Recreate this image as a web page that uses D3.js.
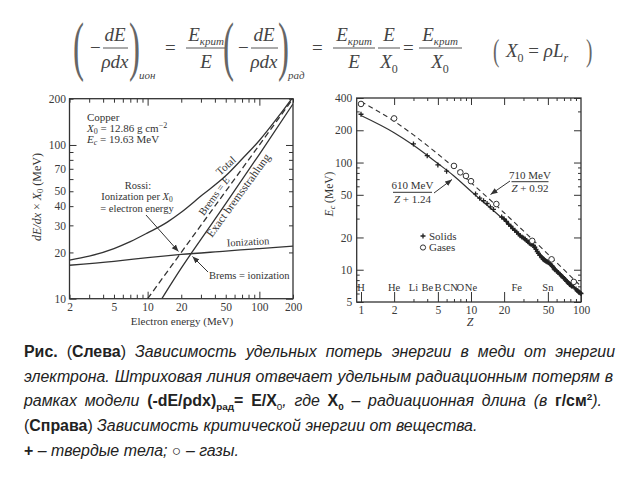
<!DOCTYPE html>
<html><head><meta charset="utf-8">
<script src="https://cdn.jsdelivr.net/npm/d3@7"></script>
<style>
body{margin:0;background:#fff}
svg{display:block}
</style></head><body>
<svg id="c" width="640" height="480"></svg>
<script>
// ---------- data ----------
const leftXTicks = [2,5,10,20,50,100,200];
const leftXMinor = [3,4,6,7,8,9,30,40,60,70,80,90];
const leftYTicks = [10,20,30,40,50,70,100,200];
const leftYMinor = [60,80,90];
const ionE = [2,5,10,20,50,100,200];
const ionV = [16.5,17.5,18.5,19.4,20.4,21.2,22.0];
const totalE = [2,3,5,7,10,15,20,30,50,70,100,150,200];
const totalV = [17.8,18.9,21.2,23.5,26.8,31.5,36.5,46.5,63,81,107,155,205];
const exactE = [13.4,20,30,50,100,200];
const exactV = [10,15.8,24.3,41.5,87,185];
const rossiE = [10,200];
const rossiV = [10,200];

const rightXTicks = [1,2,5,10,20,50,100];
const rightXMinor = [3,4,6,7,8,9,30,40,60,70,80,90];
const rightYTicks = [5,10,20,50,100,200,400];
const rightYMinor = [6,7,8,9,30,40,60,70,80,90,300];
const fitZ = [1,2,3,5,7,10,20,30,50,70,100];
const solidFit = [275,190,145,98,75,54,29,19.5,12,8.6,6.0];
const gasFit = [370,243,181,120,90,65,34,23,14,10,7];
const solidZ = [1,3,4,5,6,11,12,13,14,15,16,19,20,21,22,23,24,25,26,27,28,29,30,31,32,33,34,35,37,38,39,40,41,42,44,45,46,47,48,49,50,51,52,53,55,56,57,58,60,62,64,66,68,70,72,74,76,78,79,80,81,82,83,90,92,94,96,98,100];
const solidEc = [282,149,116,95,83,51,46.5,44,41.5,38.5,36.5,31,29.8,28.2,26.5,25.5,24.2,23.3,22.4,21.6,20.8,20.2,19.8,19.3,18.7,18.2,17.7,17.4,16.9,16.2,15.5,14.8,14.2,13.7,13.0,12.6,12.4,12.2,12.0,11.9,11.8,11.6,11.4,11.2,10.8,10.5,10.2,10.0,9.7,9.4,9.1,8.8,8.6,8.3,8.1,7.8,7.6,7.4,7.3,7.25,7.2,7.1,7.0,6.6,6.4,6.3,6.2,6.1,6.0];
const gasZ = [1,2,7,8,9,10,17,36,54,86];
const gasEc = [352,258,93,81,75,67,41,18.6,12.5,7.7];
const elemNames = ["H","He","Li","Be","B","C","N","O","Ne","Fe","Sn"];
const elemZ = [1,2,3,4,5,6,7,8,10,26,50];

// ---------- helpers ----------
const SERIF = '"Liberation Serif","DejaVu Serif",serif';
const SANS = '"Liberation Sans","Arimo","DejaVu Sans",sans-serif';
const INK = "#333";
const svg = d3.select("#c");
svg.append("defs").html(
  '<marker id="ah" viewBox="0 0 10 10" refX="10" refY="5" markerWidth="7" markerHeight="7" orient="auto-start-reverse" markerUnits="userSpaceOnUse"><path d="M0,1L10,5L0,9z" fill="#333"/></marker>'+
  '<clipPath id="clipL"><rect x="69.5" y="98.7" width="223.5" height="200"/></clipPath>'+
  '<clipPath id="clipR"><rect x="356.7" y="98" width="224.3" height="204"/></clipPath>');

function rich(g, x, y, parts, opt={}) {
  const te = g.append("text").attr("x",x).attr("y",y).attr("text-anchor", opt.anchor||"start");
  if (opt.size) te.attr("font-size", opt.size);
  if (opt.transform) te.attr("transform", opt.transform);
  let cur = 0;
  parts.forEach(p => {
    const ts = te.append("tspan").text(p.t);
    const b = p.b||0;
    if (b!==cur) { ts.attr("dy", b-cur); cur=b; }
    if (p.i) ts.attr("font-style","italic");
    if (p.w) ts.attr("font-weight","bold");
    if (p.s) ts.attr("font-size", p.s);
  });
  return te;
}
function axis(g, scale, orient, pos, values, size, labels, pad) {
  const gen = {bottom:d3.axisBottom, top:d3.axisTop, left:d3.axisLeft, right:d3.axisRight}[orient];
  const ax = gen(scale).tickValues(values).tickSizeInner(-size).tickSizeOuter(0)
     .tickPadding(pad||4).tickFormat(labels ? (d=>String(d)) : (()=>""));
  const tr = (orient==="bottom"||orient==="top") ? `translate(0,${pos})` : `translate(${pos},0)`;
  const gg = g.append("g").attr("transform", tr).call(ax);
  gg.select(".domain").remove();
  gg.attr("font-family", SERIF).attr("font-size", 11.5).attr("color", INK);
  gg.selectAll("line").attr("stroke-width", 1);
  gg.selectAll("text").attr("fill", "#3a3a3a");
  return gg;
}

// ---------- top formula ----------
const F = svg.append("g").attr("font-family", SERIF).attr("fill", "#444").attr("font-size", 19);
function bigParen(x, ch, size, base, sx) {
  F.append("text").text(ch).attr("font-size", size).attr("fill","#666")
   .attr("transform", `translate(${x},${base}) scale(${sx},1)`);
}
function bar(x1, x2, y) { F.append("line").attr("x1",x1).attr("x2",x2).attr("y1",y).attr("y2",y).attr("stroke","#555").attr("stroke-width",1); }
const Ek = [{t:"E", i:true},{t:"крит", i:true, s:11, b:4}];
const X0 = [{t:"X", i:true},{t:"0", s:12, b:5}];
function frac(cx, x1, x2, num, den) {
  rich(F, cx, 41, num, {anchor:"middle"});
  bar(x1, x2, 48);
  rich(F, cx, 68, den, {anchor:"middle"});
}
bigParen(73, "(", 66, 68, 0.5);
rich(F, 90, 54, [{t:"−"}]);
frac(115, 103, 128, [{t:"dE", i:true}], [{t:"ρdx", i:true}]);
bigParen(129, ")", 66, 68, 0.5);
rich(F, 139, 79, [{t:"ион", i:true, s:11}]);
rich(F, 165, 54, [{t:"="}]);
frac(206, 186, 226, Ek, [{t:"E", i:true}]);
bigParen(223, "(", 66, 68, 0.5);
rich(F, 238, 54, [{t:"−"}]);
frac(264, 251, 278, [{t:"dE", i:true}], [{t:"ρdx", i:true}]);
bigParen(278, ")", 66, 68, 0.5);
rich(F, 288, 79, [{t:"рад", i:true, s:11}]);
rich(F, 312, 54, [{t:"="}]);
frac(354, 333, 375, Ek, [{t:"E", i:true}]);
frac(389, 378, 400, [{t:"E", i:true}], X0);
rich(F, 403, 54, [{t:"="}]);
frac(440, 419, 462, Ek, X0);
bigParen(493, "(", 32, 61, 0.6);
rich(F, 506, 57, [{t:"X", i:true},{t:"0", s:12, b:5},{t:" = "},{t:"ρL", i:true},{t:"r", i:true, s:12, b:5}]);
bigParen(586, ")", 32, 61, 0.6);

// ---------- left chart ----------
const L = svg.append("g");
const xL = d3.scaleLog().domain([2,200]).range([69.5,293]);
const yL = d3.scaleLog().domain([10,200]).range([298.7,98.7]);
const decL = v => (v===10||v===100);
axis(L, xL, "bottom", 298.7, leftXTicks, 0, true, 4);
axis(L, xL, "bottom", 298.7, leftXTicks.concat(leftXMinor).filter(v=>!decL(v)), 4, false);
axis(L, xL, "bottom", 298.7, [10,100], 7, false);
axis(L, xL, "top", 98.7, leftXTicks.concat(leftXMinor).filter(v=>!decL(v)), 4, false);
axis(L, xL, "top", 98.7, [10,100], 7, false);
axis(L, yL, "left", 69.5, leftYTicks, 0, true, 3.5);
axis(L, yL, "left", 69.5, leftYTicks.concat(leftYMinor).filter(v=>!decL(v)), 4, false);
axis(L, yL, "left", 69.5, [10,100], 7, false);
axis(L, yL, "right", 293, leftYTicks.concat(leftYMinor).filter(v=>!decL(v)), 4, false);
axis(L, yL, "right", 293, [10,100], 7, false);
L.append("rect").attr("x",69.5).attr("y",98.7).attr("width",223.5).attr("height",200)
  .attr("fill","none").attr("stroke",INK).attr("stroke-width",1.3);

const lineL = d3.line().x(d=>xL(d[0])).y(d=>yL(d[1])).curve(d3.curveMonotoneX);
const curvesL = L.append("g").attr("clip-path","url(#clipL)").attr("fill","none").attr("stroke",INK).attr("stroke-width",1.3);
curvesL.append("path").attr("d", lineL(d3.zip(ionE, ionV)));
curvesL.append("path").attr("d", lineL(d3.zip(totalE, totalV)));
curvesL.append("path").attr("d", lineL(d3.zip(exactE, exactV)));
curvesL.append("path").attr("d", lineL(d3.zip(rossiE, rossiV))).attr("stroke-dasharray","6,3.5");

const TL = L.append("g").attr("font-family", SERIF).attr("font-size", 10.5).attr("fill", INK);
rich(TL, 87, 121, [{t:"Copper"}], {size:11});
rich(TL, 87, 132, [{t:"X", i:true},{t:"0", s:8, b:2},{t:" = 12.86 g cm"},{t:"−2", s:8, b:-4}], {size:11});
rich(TL, 87, 143, [{t:"E", i:true},{t:"c", i:true, s:8, b:2},{t:" = 19.63 MeV"}], {size:11});
rich(TL, 138, 188.5, [{t:"Rossi:"}], {anchor:"middle"});
rich(TL, 137, 200, [{t:"Ionization per "},{t:"X", i:true},{t:"0", s:7.5, b:1.5}], {anchor:"middle"});
rich(TL, 137, 212, [{t:"= electron energy"}], {anchor:"middle"});
rich(TL, 209, 279, [{t:"Brems = ionization"}]);
// Ionization label along the line
{ const e = 80, px = xL(e), py = yL(20.95);
  rich(TL, px, py-4, [{t:"Ionization"}], {anchor:"middle", transform:`rotate(-3,${px},${py})`}); }
// rotated labels along lines
{ const e = 44, px = xL(e), py = yL(e);
  rich(TL, 0, -3, [{t:"Brems = "},{t:"E", i:true}], {anchor:"middle", transform:`translate(${px},${py}) rotate(-54)`}); }
{ const e = 59, px = xL(e), py = yL(49.5);
  rich(TL, 0, 9.5, [{t:"Exact bremsstrahlung"}], {anchor:"middle", size:11.5, transform:`translate(${px},${py}) rotate(-54)`}); }
{ const e = 55, px = xL(e), py = yL(68);
  rich(TL, 0, -3, [{t:"Total"}], {anchor:"middle", size:11, transform:`translate(${px},${py}) rotate(-42)`}); }
// arrows
L.append("line").attr("x1",146).attr("y1",215).attr("x2",178.5).attr("y2",251.5)
  .attr("stroke",INK).attr("stroke-width",1).attr("marker-end","url(#ah)");
L.append("line").attr("x1",208).attr("y1",272).attr("x2",192.5).attr("y2",256.5)
  .attr("stroke",INK).attr("stroke-width",1).attr("marker-end","url(#ah)");
// axis titles
rich(TL, 0, 0, [{t:"dE/dx", i:true},{t:" × "},{t:"X", i:true},{t:"0", s:8.5, b:2},{t:" (MeV)"}],
  {anchor:"middle", transform:"translate(41,197) rotate(-90)", size:12});
rich(TL, 182, 325, [{t:"Electron energy (MeV)"}], {anchor:"middle", size:11});

// ---------- right chart ----------
const R = svg.append("g");
const xR = d3.scaleLog().domain([0.914,100]).range([356.7,581]);
const yR = d3.scaleLog().domain([5,400]).range([302,98]);
axis(R, xR, "bottom", 302, rightXTicks, 10, true, 4);
axis(R, xR, "bottom", 302, rightXMinor, 3, false);
axis(R, xR, "top", 98, rightXTicks.filter(v=>v>1&&v<100), 7, false);
axis(R, xR, "top", 98, rightXMinor, 3, false);
axis(R, yR, "left", 356.7, rightYTicks, 7, true, 4.5);
axis(R, yR, "left", 356.7, rightYMinor, 3, false);
axis(R, yR, "right", 581, rightYTicks, 7, false);
axis(R, yR, "right", 581, rightYMinor, 3, false);
R.append("rect").attr("x",356.7).attr("y",98).attr("width",224.3).attr("height",204)
  .attr("fill","none").attr("stroke",INK).attr("stroke-width",1.3);

const lineR = d3.line().x(d=>xR(d[0])).y(d=>yR(d[1])).curve(d3.curveMonotoneX);
const curvesR = R.append("g").attr("clip-path","url(#clipR)").attr("fill","none").attr("stroke",INK);
curvesR.append("path").attr("d", lineR(d3.zip(fitZ, solidFit))).attr("stroke-width",1.2);
curvesR.append("path").attr("d", lineR(d3.zip(fitZ, gasFit))).attr("stroke-width",1.1).attr("stroke-dasharray","5,3.5");
const solidPts = d3.zip(solidZ, solidEc);
curvesR.append("path").attr("d", d3.line().x(d=>xR(d[0])).y(d=>yR(d[1]))(solidPts.filter(d=>d[0]>=19)))
  .attr("stroke-width",2.4).attr("stroke","#222");
R.append("g").selectAll("path").data(solidPts).join("path")
  .attr("transform", d=>`translate(${xR(d[0])},${yR(d[1])})`)
  .attr("d","M-2.5,0H2.5M0,-2.5V2.5").attr("stroke","#222").attr("stroke-width",1.3);
R.append("g").selectAll("circle").data(d3.zip(gasZ, gasEc)).join("circle")
  .attr("cx", d=>xR(d[0])).attr("cy", d=>yR(d[1])).attr("r",2.8)
  .attr("fill","#fff").attr("stroke","#333").attr("stroke-width",1);

const TR = R.append("g").attr("font-family", SERIF).attr("font-size", 10.5).attr("fill", INK);
TR.selectAll("text.el").data(d3.zip(elemNames, elemZ)).join("text").attr("class","el")
  .attr("x", d=>xR(d[1])).attr("y", 291).attr("text-anchor","middle").text(d=>d[0]);
// legend
R.append("path").attr("transform","translate(423,236)").attr("d","M-2.5,0H2.5M0,-2.5V2.5").attr("stroke","#222").attr("stroke-width",1.3);
R.append("circle").attr("cx",423).attr("cy",247.5).attr("r",2.6).attr("fill","#fff").attr("stroke","#333");
rich(TR, 429, 239.5, [{t:"Solids"}], {size:11});
rich(TR, 429, 251, [{t:"Gases"}], {size:11});
// fit annotations
rich(TR, 412.5, 189, [{t:"610 MeV"}], {anchor:"middle", size:11});
R.append("line").attr("x1",393).attr("x2",432).attr("y1",192.3).attr("y2",192.3).attr("stroke",INK);
rich(TR, 412.5, 202.5, [{t:"Z", i:true},{t:" + 1.24"}], {anchor:"middle", size:11});
R.append("line").attr("x1",434).attr("y1",193).attr("x2",452).attr("y2",179.5)
  .attr("stroke",INK).attr("stroke-width",1).attr("marker-end","url(#ah)");
rich(TR, 530, 178.5, [{t:"710 MeV"}], {anchor:"middle", size:11});
R.append("line").attr("x1",511.5).attr("x2",548.5).attr("y1",181.7).attr("y2",181.7).attr("stroke",INK);
rich(TR, 530, 192, [{t:"Z", i:true},{t:" + 0.92"}], {anchor:"middle", size:11});
R.append("line").attr("x1",510).attr("y1",181).attr("x2",490.5).attr("y2",194.5)
  .attr("stroke",INK).attr("stroke-width",1).attr("marker-end","url(#ah)");
// axis titles
rich(TR, 0, 0, [{t:"E", i:true},{t:"c", i:true, s:8, b:2},{t:" (MeV)"}],
  {anchor:"middle", transform:"translate(333,194) rotate(-90)", size:11.5});
rich(TR, 470, 326, [{t:"Z", i:true}], {anchor:"middle", size:12});

// ---------- caption ----------
const C = svg.append("g").attr("font-family", SANS).attr("fill", "#222");
const capLines = [
  {y:357, w:591, parts:[{t:"Рис.", w:true},{t:" ("},{t:"Слева", w:true},{t:") "},{t:"Зависимость удельных потерь энергии в меди от энергии", i:true}]},
  {y:382, w:589, parts:[{t:"электрона. Штриховая линия отвечает удельным радиационным потерям в", i:true}]},
  {y:406, w:578, parts:[{t:"рамках модели ", i:true},{t:"(-dE/ρdx)", w:true},{t:"рад", w:true, s:10, b:4},{t:"= E/X", w:true},{t:"0", s:10, b:4},{t:", где ", i:true},{t:"X", w:true},{t:"0", w:true, s:10, b:4},{t:" – радиационная длина (в ", i:true},{t:"г/см", w:true},{t:"2", w:true, s:10, b:-6},{t:").", i:true}]},
  {y:431, w:0, parts:[{t:"("},{t:"Справа", w:true},{t:") "},{t:"Зависимость критической энергии от вещества.", i:true}]},
  {y:456, w:0, parts:[{t:"+", w:true},{t:" – твердые тела; ○ – газы.", i:true}]}
];
// determine font size so line 4 spans its width in the reference (24 → 478)
let fs = 16;
{ const probe = rich(C, 24, 431, capLines[3].parts, {size:16});
  const w = probe.node().getComputedTextLength();
  probe.remove();
  if (w > 0) fs = Math.max(14, Math.min(18, 16*454/w)); }
capLines.forEach(l => {
  const te = rich(C, 24, l.y, l.parts.map(p => Object.assign({}, p, p.s ? {s: p.s*fs/16} : {})), {size:fs});
  if (l.w) {
    const w = te.node().getComputedTextLength();
    const n = l.parts.map(p=>p.t).join("").split(" ").length - 1;
    if (n > 0 && w < l.w) te.attr("word-spacing", (l.w - w)/n);
  }
});
</script>
</body></html>
